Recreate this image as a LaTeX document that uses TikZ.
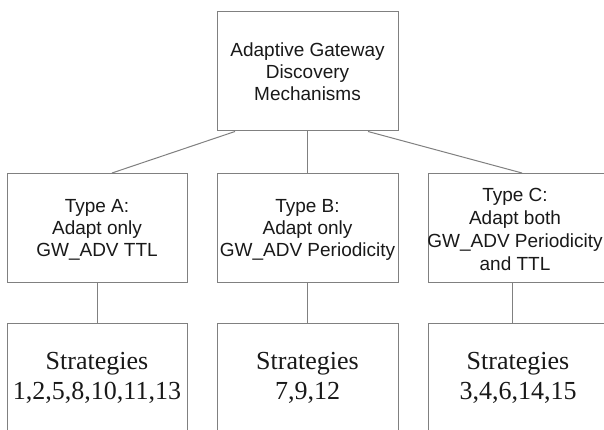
\documentclass[tikz,border=0pt]{standalone}
\usepackage{fontspec}
\setmainfont{Liberation Serif}
\setsansfont{Liberation Sans}
\usetikzlibrary{calc}
\definecolor{linegray}{RGB}{128,128,128}
\definecolor{txt}{RGB}{25,25,25}
\begin{document}
\begin{tikzpicture}[x=1pt,y=-1pt,
  box/.style={draw=linegray, line width=1pt, inner sep=0pt, align=center, text=txt},
  sans/.style={font=\sffamily\fontsize{19pt}{22pt}\selectfont},
  serif/.style={font=\rmfamily\fontsize{26pt}{30pt}\selectfont},
  conn/.style={draw=linegray, line width=1pt}]
\useasboundingbox (0,0) rectangle (604,430);
\clip (0,0) rectangle (604,430);
\fill[white] (0,0) rectangle (604,430);
% top
\node[box, sans, minimum width=181pt, minimum height=119pt] (top) at (307.5,71.5)
  {Adaptive Gateway\\Discovery\\Mechanisms};
% middle row
\node[box, minimum width=180pt, minimum height=109pt] (A) at (97,228) {};
\node[sans, align=center, text=txt, inner sep=0pt] (At) at (97,229.5)
  {Type A:\\Adapt only\\GW\_ADV TTL};
\node[box, minimum width=181pt, minimum height=109pt] (B) at (307.5,228) {};
\node[sans, align=center, text=txt, inner sep=0pt] (Bt) at (307.5,229.5)
  {Type B:\\Adapt only\\GW\_ADV Periodicity};
\node[box, minimum width=182pt, minimum height=109pt] (C) at (519,228) {};
\node[sans, align=center, text=txt, inner sep=0pt, font=\sffamily\fontsize{19pt}{23pt}\selectfont] (Ct) at (515,229)
  {Type C:\\Adapt both\\GW\_ADV Periodicity\\and TTL};
% bottom row
\node[box, serif, minimum width=180pt, minimum height=110pt] (SA) at (97,378)
  {Strategies\\1,2,5,8,10,11,13};
\node[box, serif, minimum width=181pt, minimum height=110pt] (SB) at (307.5,378)
  {Strategies\\7,9,12};
\node[box, serif, minimum width=180pt, minimum height=110pt] (SC) at (518,378)
  {Strategies\\3,4,6,14,15};
% connectors
\path[conn] ($(top.south)+(-72.5,0)$) -- ($(A.north)+(15,0)$);
\path[conn] (top.south) -- (B.north);
\path[conn] ($(top.south)+(60.5,0)$) -- ($(C.north)+(3,0)$);
\path[conn] (A.south) -- (SA.north);
\path[conn] (B.south) -- (SB.north);
\path[conn] ($(C.south)+(-7,0)$) -- ($(SC.north)+(-6,0)$);
\end{tikzpicture}
\end{document}
